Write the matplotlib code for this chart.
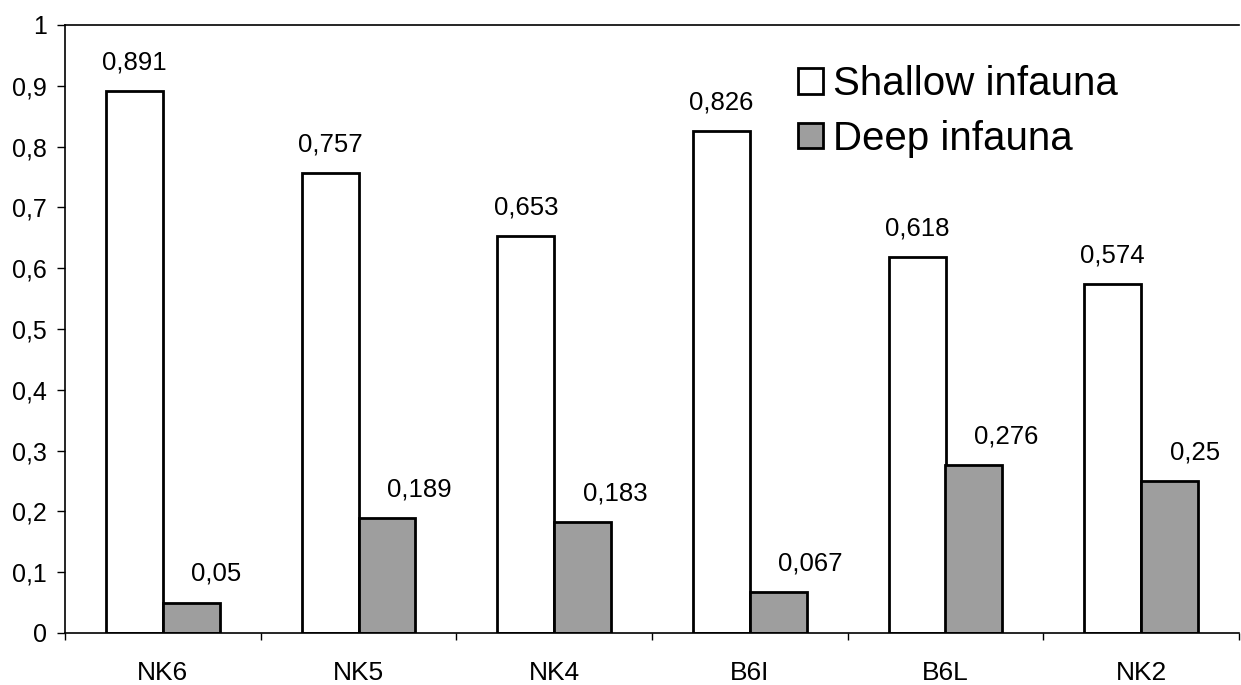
import numpy as np
import matplotlib.pyplot as plt
from matplotlib.ticker import FixedLocator, FuncFormatter

plt.rcParams["font.family"] = ["Liberation Sans", "DejaVu Sans"]

sites = ["NK6", "NK5", "NK4", "B6I", "B6L", "NK2"]
shallow = [0.891, 0.757, 0.653, 0.826, 0.618, 0.574]
deep = [0.05, 0.189, 0.183, 0.067, 0.276, 0.25]


def comma(v):
    return f"{v:g}".replace(".", ",")


fig = plt.figure(figsize=(12.41, 6.85), dpi=100)
ax = fig.add_axes([65 / 1241, 1 - 633 / 685, 1174 / 1241, 608 / 685])

x = np.arange(len(sites))
w = 0.29
ax.bar(x - w / 2, shallow, w, color="white", edgecolor="black", linewidth=2.0,
       label="Shallow infauna")
ax.bar(x + w / 2, deep, w, color="#9e9e9e", edgecolor="black", linewidth=2.0,
       label="Deep infauna")

for xi, v in zip(x, shallow):
    ax.annotate(comma(v), (xi - w / 2, v), xytext=(0, 12), textcoords="offset points",
                ha="center", va="bottom", fontsize=18.5)
for xi, v in zip(x, deep):
    ax.annotate(comma(v), (xi + w / 2, v), xytext=(0, 12), textcoords="offset points",
                ha="left", va="bottom", fontsize=18.5)

ax.set_xlim(-0.5, len(sites) - 0.5)
ax.set_ylim(0, 1)
ax.set_yticks(np.arange(0, 1.01, 0.1))
ax.yaxis.set_major_formatter(FuncFormatter(lambda v, p: comma(round(v, 1))))
ax.set_xticks(x)
ax.set_xticklabels(sites)
ax.xaxis.set_minor_locator(FixedLocator(np.arange(-0.5, len(sites), 1.0)))
ax.tick_params(axis="x", which="major", length=0, pad=20, labelsize=19)
ax.tick_params(axis="x", which="minor", length=5, width=1, direction="out")
ax.tick_params(axis="y", length=6, width=1, direction="out", pad=7, labelsize=18)

ax.spines["right"].set_visible(False)
for s in ["left", "bottom", "top"]:
    ax.spines[s].set_linewidth(1.2)

ax.legend(loc="upper left", bbox_to_anchor=(0.611, 0.96), frameon=False,
          fontsize=29, handlelength=0.6, handleheight=0.6, handletextpad=0.25,
          labelspacing=0.4, borderaxespad=0)

fig.savefig("out.png", dpi=100)
